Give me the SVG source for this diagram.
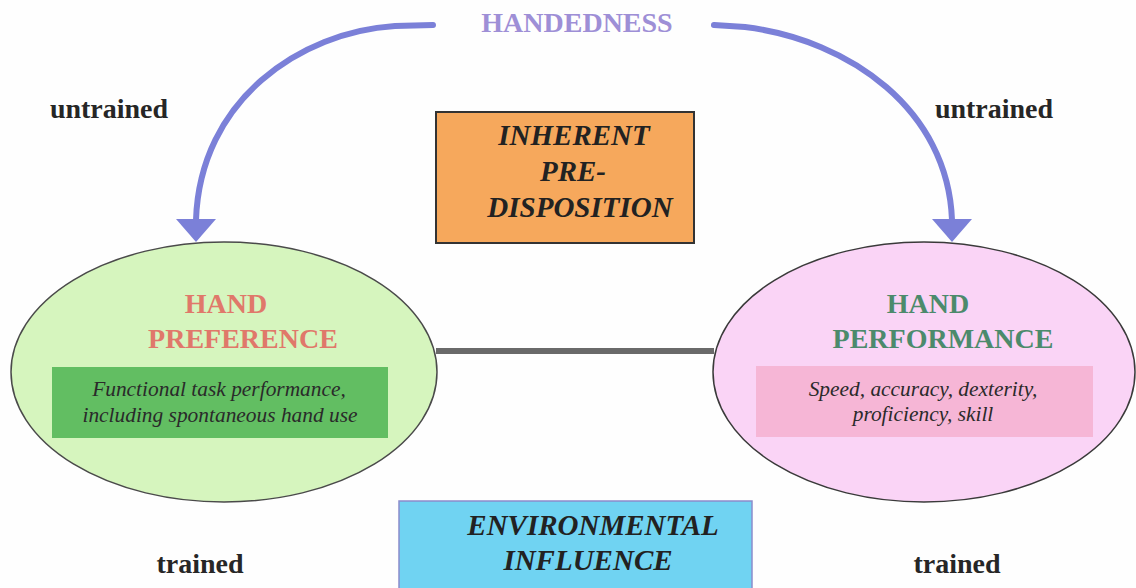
<svg xmlns="http://www.w3.org/2000/svg" width="1136" height="588" viewBox="0 0 1136 588">
<defs>
<style>
.lbl{font-family:"Liberation Serif","Times New Roman",serif;font-weight:bold;font-size:28px;fill:#262626;text-anchor:middle}
.title{font-family:"Liberation Serif","Times New Roman",serif;font-weight:bold;font-size:28px;text-anchor:middle}
.box{font-family:"Liberation Serif","Times New Roman",serif;font-weight:bold;font-style:italic;font-size:29px;fill:#222;text-anchor:middle}
.sub{font-family:"Liberation Serif","Times New Roman",serif;font-style:italic;font-size:21.4px;fill:#2a2a2a;text-anchor:middle}
.arc{fill:none;stroke:#7B80D8;stroke-width:6;stroke-linecap:round}
.head{fill:#7B80D8}
</style>
</defs>
<rect width="1136" height="588" fill="#FEFEFE"/>
<g id="connectors">
<path class="arc" d="M433,25 L395,26 C300,32 200,100 196,220"/>
<polygon class="head" points="176,219 216,219 196,242"/>
<path class="arc" d="M714,25 L745,27 C850,40 948,110 952,220"/>
<polygon class="head" points="932,219 972,219 952,242"/>
<line x1="436" y1="351" x2="714" y2="351" stroke="#6a6a6a" stroke-width="6"/>
</g>
<g id="handedness">
<text class="title" x="577" y="32" fill="#9E8FD6">HANDEDNESS</text>
</g>
<g id="untrained-left"><text class="lbl" x="109" y="118">untrained</text></g>
<g id="untrained-right"><text class="lbl" x="994" y="118">untrained</text></g>
<g id="trained-left"><text class="lbl" x="200" y="573">trained</text></g>
<g id="trained-right"><text class="lbl" x="957" y="573">trained</text></g>
<g id="inherent">
<rect x="436" y="112" width="258" height="131" fill="#F6A85C" stroke="#333" stroke-width="2"/>
<text class="box" x="574" y="145">INHERENT</text>
<text class="box" x="573" y="181">PRE-</text>
<text class="box" x="580" y="217">DISPOSITION</text>
</g>
<g id="hand-preference">
<ellipse cx="224" cy="372" rx="213" ry="130" fill="#D6F5BE" stroke="#4a4a4a" stroke-width="1.5"/>
<text class="title" x="226" y="313" fill="#E0786A">HAND</text>
<text class="title" x="243" y="348" fill="#E0786A">PREFERENCE</text>
<rect x="52" y="367" width="336" height="71" fill="#62BE62"/>
<text class="sub" x="219" y="396">Functional task performance,</text>
<text class="sub" x="220" y="422">including spontaneous hand use</text>
</g>
<g id="hand-performance">
<ellipse cx="924" cy="372" rx="211" ry="130" fill="#FAD4F6" stroke="#3a3a3a" stroke-width="1.5"/>
<text class="title" x="928" y="313" fill="#4C8A6C">HAND</text>
<text class="title" x="943" y="348" fill="#4C8A6C">PERFORMANCE</text>
<rect x="756" y="366" width="337" height="71" fill="#F6B6D6"/>
<text class="sub" x="923" y="396">Speed, accuracy, dexterity,</text>
<text class="sub" x="923" y="421">proficiency, skill</text>
</g>
<g id="environmental">
<rect x="399" y="501" width="353" height="100" fill="#70D3F2" stroke="#8C8CCC" stroke-width="1.5"/>
<text class="box" x="593" y="535">ENVIRONMENTAL</text>
<text class="box" x="588" y="570">INFLUENCE</text>
</g>
</svg>
